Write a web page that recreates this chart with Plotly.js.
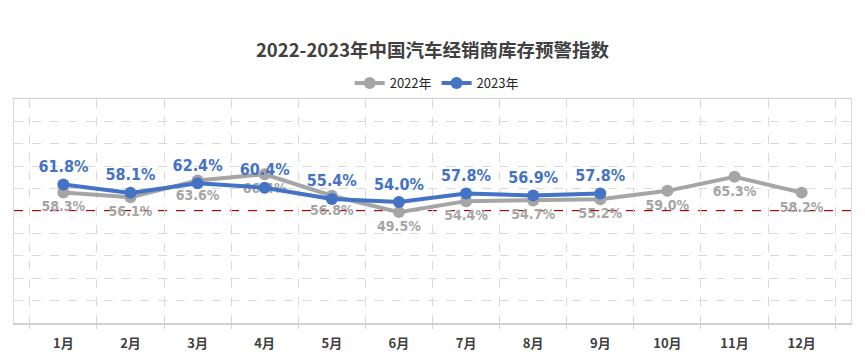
<!DOCTYPE html>
<html>
<head>
<meta charset="utf-8">
<script src="https://cdn.plot.ly/plotly-3.0.1.min.js"></script>
<style>html,body{margin:0;padding:0;background:#fff;}#chart{width:865px;height:360px;}</style>
</head>
<body>
<div id="chart"></div>
<script>
const months = ["1月","2月","3月","4月","5月","6月","7月","8月","9月","10月","11月","12月"];
const values2022 = [58.3,56.1,63.6,66.4,56.8,49.5,54.4,54.7,55.2,59.0,65.3,58.2];
const values2023 = [61.8,58.1,62.4,60.4,55.4,54.0,57.8,56.9,57.8];
const warningLine = 50;
const chartTitle = "2022-2023年中国汽车经销商库存预警指数";
const seriesNames = ["2022年","2023年"];

const labelFont = "'DejaVu Sans Condensed', 'Liberation Sans Narrow', sans-serif";
const trace2022 = {
  x: months.slice(0, values2022.length), y: values2022, name: seriesNames[0],
  type: "scatter", mode: "lines+markers+text",
  line: {color: "#A5A5A5", width: 4},
  marker: {color: "#A5A5A5", size: 12},
  text: values2022.map(v => v.toFixed(1) + "%"),
  textposition: "bottom center",
  textfont: {family: labelFont, size: 14, color: "#A5A5A5", weight: "bold"},
  cliponaxis: false
};
const trace2023 = {
  x: months.slice(0, values2023.length), y: values2023, name: seriesNames[1],
  type: "scatter", mode: "lines+markers+text",
  line: {color: "#4472C4", width: 4},
  marker: {color: "#4472C4", size: 12},
  text: values2023.map(v => v.toFixed(1) + "%"),
  textposition: "top center",
  textfont: {family: labelFont, size: 16, color: "#4472C4", weight: "bold"},
  cliponaxis: false
};

const layout = {
  width: 865, height: 360,
  margin: {l: 14, r: 14, t: 99, b: 37},
  paper_bgcolor: "#fff", plot_bgcolor: "#fff",
  font: {family: "'Noto Sans CJK SC', 'Liberation Sans', sans-serif", color: "#404040"},
  title: {
    text: "<b>" + chartTitle + "</b>",
    font: {size: 18.5, color: "#404040", family: "'Noto Sans CJK SC', sans-serif"},
    x: 0.5, xanchor: "center", yref: "container", y: 1 - 51/360, yanchor: "middle"
  },
  showlegend: true,
  legend: {
    orientation: "h", x: 0.505, xanchor: "center", y: 1 + 16/224, yanchor: "middle",
    font: {size: 13, color: "#262626"}, itemwidth: 30, traceorder: "normal"
  },
  xaxis: {
    type: "category", categoryarray: months, categoryorder: "array",
    tickson: "boundaries", ticks: "outside", ticklen: 4, tickcolor: "#d0d0d0",
    ticklabelstandoff: 8,
    showgrid: true, gridcolor: "#d9d9d9", griddash: "dash", gridwidth: 1,
    showline: true, linecolor: "#d0d0d0", linewidth: 1.5, mirror: true,
    tickfont: {size: 13, color: "#404040", family: "'Noto Sans CJK SC', sans-serif", weight: "bold"},
    fixedrange: true
  },
  yaxis: {
    range: [0, 100], dtick: 10, showticklabels: false,
    showgrid: true, gridcolor: "#d9d9d9", griddash: "dash", gridwidth: 1,
    zeroline: false, showline: true, linecolor: "#d9d9d9", mirror: true,
    fixedrange: true
  },
  shapes: [{
    type: "line", xref: "paper", x0: 0, x1: 1, yref: "y", y0: warningLine, y1: warningLine,
    line: {color: "#C00000", width: 2, dash: "dash"}, layer: "below"
  }]
};

Plotly.newPlot("chart", [trace2022, trace2023], layout, {displayModeBar: false, staticPlot: true});
</script>
</body>
</html>
